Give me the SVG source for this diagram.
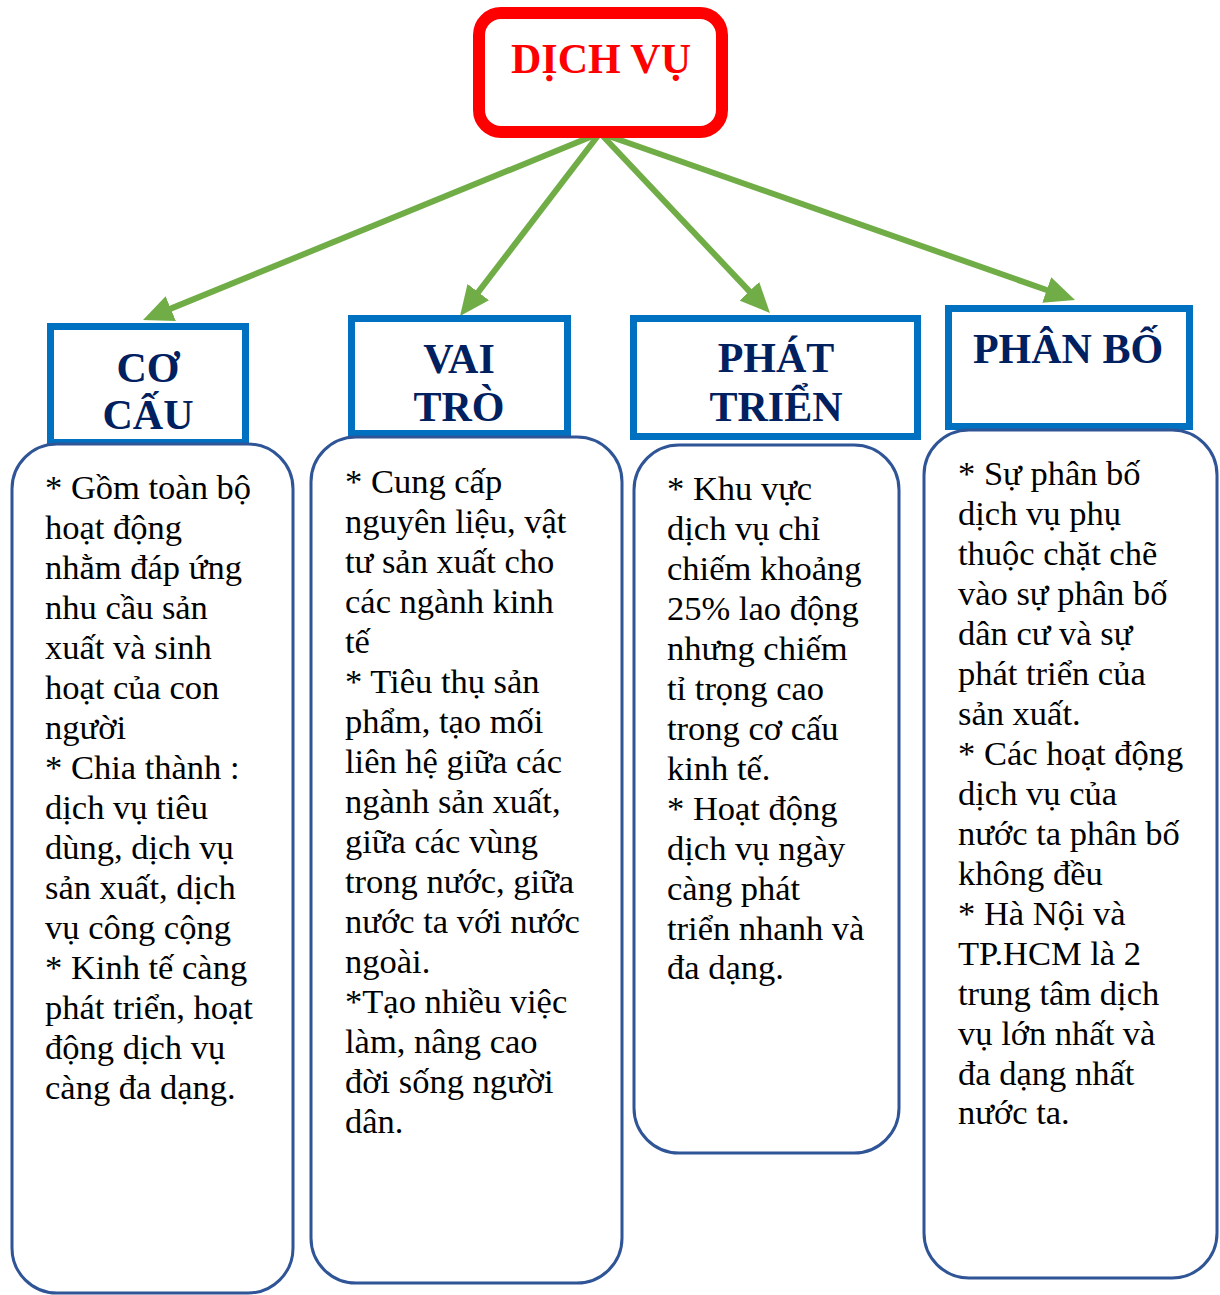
<svg xmlns="http://www.w3.org/2000/svg" width="1220" height="1295" viewBox="0 0 1220 1295">
<defs>
<marker id="ah" markerWidth="5" markerHeight="4.5" refX="1" refY="2.25" orient="auto" markerUnits="strokeWidth">
<path d="M0,0 L5,2.25 L0,4.5 z" fill="#70AD47"/>
</marker>
<style>
.conn{stroke:#70AD47;stroke-width:6;fill:none;marker-end:url(#ah)}
.hbox{fill:#fff;stroke:#0070C0;stroke-width:7}
.body{fill:#fff;stroke:#2F5597;stroke-width:3}
.ht{font-family:"Liberation Serif","Times New Roman",serif;font-weight:bold;font-size:42px;fill:#002060;text-anchor:middle}
.bt{font-family:"Liberation Serif","Times New Roman",serif;font-size:34.5px;fill:#000}
</style>
</defs>
<rect width="1220" height="1295" fill="#fff"/>
<g id="connectors">
<line class="conn" x1="600" y1="133" x2="165.2" y2="310.9"/>
<line class="conn" x1="600" y1="133" x2="474.6" y2="296.9"/>
<line class="conn" x1="600" y1="133" x2="753.5" y2="295.6"/>
<line class="conn" x1="600" y1="133" x2="1052.4" y2="292"/>
</g>
<g id="dich-vu">
<rect x="479" y="13" width="243" height="119" rx="22" fill="#fff" stroke="#FF0000" stroke-width="12"/>
<text x="601" y="73" font-family="Liberation Serif,Times New Roman,serif" font-weight="bold" font-size="42" fill="#FF0000" text-anchor="middle">DỊCH VỤ</text>
</g>
<g id="co-cau">
<rect class="hbox" x="50.5" y="326.5" width="195" height="116"/>
<text class="ht" x="148" y="382">CƠ</text>
<text class="ht" x="148" y="429">CẤU</text>
<rect class="body" x="12" y="444" width="281" height="849" rx="45"/>
<text class="bt">
<tspan x="45" y="499">* Gồm toàn bộ</tspan>
<tspan x="45" y="539">hoạt động</tspan>
<tspan x="45" y="579">nhằm đáp ứng</tspan>
<tspan x="45" y="619">nhu cầu sản</tspan>
<tspan x="45" y="659">xuất và sinh</tspan>
<tspan x="45" y="699">hoạt của con</tspan>
<tspan x="45" y="739">người</tspan>
<tspan x="45" y="779">* Chia thành :</tspan>
<tspan x="45" y="819">dịch vụ tiêu</tspan>
<tspan x="45" y="859">dùng, dịch vụ</tspan>
<tspan x="45" y="899">sản xuất, dịch</tspan>
<tspan x="45" y="939">vụ công cộng</tspan>
<tspan x="45" y="979">* Kinh tế càng</tspan>
<tspan x="45" y="1019">phát triển, hoạt</tspan>
<tspan x="45" y="1059">động dịch vụ</tspan>
<tspan x="45" y="1099">càng đa dạng.</tspan>
</text>
</g>
<g id="vai-tro">
<rect class="hbox" x="351.5" y="318.5" width="216" height="115"/>
<text class="ht" x="459" y="373">VAI</text>
<text class="ht" x="459" y="421">TRÒ</text>
<rect class="body" x="311" y="437" width="311" height="846" rx="45"/>
<text class="bt">
<tspan x="345" y="493">* Cung cấp</tspan>
<tspan x="345" y="533">nguyên liệu, vật</tspan>
<tspan x="345" y="573">tư sản xuất cho</tspan>
<tspan x="345" y="613">các ngành kinh</tspan>
<tspan x="345" y="653">tế</tspan>
<tspan x="345" y="693">* Tiêu thụ sản</tspan>
<tspan x="345" y="733">phẩm, tạo mối</tspan>
<tspan x="345" y="773">liên hệ giữa các</tspan>
<tspan x="345" y="813">ngành sản xuất,</tspan>
<tspan x="345" y="853">giữa các vùng</tspan>
<tspan x="345" y="893">trong nước, giữa</tspan>
<tspan x="345" y="933">nước ta với nước</tspan>
<tspan x="345" y="973">ngoài.</tspan>
<tspan x="345" y="1013">*Tạo nhiều việc</tspan>
<tspan x="345" y="1053">làm, nâng cao</tspan>
<tspan x="345" y="1093">đời sống người</tspan>
<tspan x="345" y="1133">dân.</tspan>
</text>
</g>
<g id="phat-trien">
<rect class="hbox" x="633.5" y="318.5" width="284" height="118"/>
<text class="ht" x="776" y="372">PHÁT</text>
<text class="ht" x="776" y="421">TRIỂN</text>
<rect class="body" x="634" y="445" width="265" height="708" rx="45"/>
<text class="bt">
<tspan x="667" y="500">* Khu vực</tspan>
<tspan x="667" y="540">dịch vụ chỉ</tspan>
<tspan x="667" y="580">chiếm khoảng</tspan>
<tspan x="667" y="620">25% lao động</tspan>
<tspan x="667" y="660">nhưng chiếm</tspan>
<tspan x="667" y="700">tỉ trọng cao</tspan>
<tspan x="667" y="740">trong cơ cấu</tspan>
<tspan x="667" y="780">kinh tế.</tspan>
<tspan x="667" y="820">* Hoạt động</tspan>
<tspan x="667" y="860">dịch vụ ngày</tspan>
<tspan x="667" y="900">càng phát</tspan>
<tspan x="667" y="940">triển nhanh và</tspan>
<tspan x="667" y="979">đa dạng.</tspan>
</text>
</g>
<g id="phan-bo">
<rect class="hbox" x="948.5" y="308.5" width="241" height="118"/>
<text class="ht" x="1068" y="363">PHÂN BỐ</text>
<rect class="body" x="924" y="430" width="293" height="848" rx="45"/>
<text class="bt">
<tspan x="958" y="485">* Sự phân bố</tspan>
<tspan x="958" y="525">dịch vụ phụ</tspan>
<tspan x="958" y="565">thuộc chặt chẽ</tspan>
<tspan x="958" y="605">vào sự phân bố</tspan>
<tspan x="958" y="645">dân cư và sự</tspan>
<tspan x="958" y="685">phát triển của</tspan>
<tspan x="958" y="725">sản xuất.</tspan>
<tspan x="958" y="765">* Các hoạt động</tspan>
<tspan x="958" y="805">dịch vụ của</tspan>
<tspan x="958" y="845">nước ta phân bố</tspan>
<tspan x="958" y="885">không đều</tspan>
<tspan x="958" y="925">* Hà Nội và</tspan>
<tspan x="958" y="965">TP.HCM là 2</tspan>
<tspan x="958" y="1005">trung tâm dịch</tspan>
<tspan x="958" y="1045">vụ lớn nhất và</tspan>
<tspan x="958" y="1085">đa dạng nhất</tspan>
<tspan x="958" y="1124">nước ta.</tspan>
</text>
</g>
</svg>
